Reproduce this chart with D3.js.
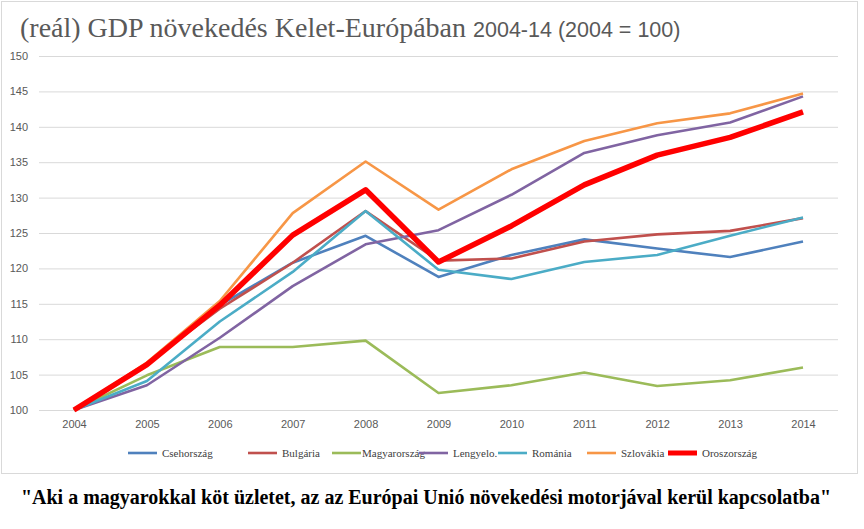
<!DOCTYPE html>
<html><head><meta charset="utf-8">
<script src="https://cdn.jsdelivr.net/npm/d3@7"></script>
<style>body{margin:0;background:#fff}svg{display:block}</style>
</head><body>
<svg id="c" width="864" height="529"></svg>
<script>
const years = ["2004","2005","2006","2007","2008","2009","2010","2011","2012","2013","2014"];
const yTicks = [100,105,110,115,120,125,130,135,140,145,150];
const seriesNames = ["Csehország","Bulgária","Magyarország","Lengyelo.","Románia","Szlovákia","Oroszország"];
const cseh   = [100,106.3,114.8,120.8,124.6,118.8,121.9,124.1,122.8,121.6,123.8];
const bulg   = [100,106.6,114.3,120.8,128.1,121.1,121.4,123.8,124.8,125.3,127.1];
const magy   = [100,104.9,108.9,108.9,109.8,102.4,103.5,105.3,103.4,104.2,106.0];
const leng   = [100,103.5,110.2,117.5,123.4,125.4,130.4,136.3,138.8,140.6,144.3];
const roma   = [100,104.1,112.5,119.5,128.1,119.8,118.5,120.9,121.9,124.6,127.2];
const szlo   = [100,106.7,115.4,127.8,135.1,128.3,134.0,138.0,140.5,141.9,144.7];
const orosz  = [100,106.4,114.8,124.7,131.1,120.9,126.0,131.8,136.0,138.5,142.1];
const seriesValues = [cseh,bulg,magy,leng,roma,szlo,orosz];
const colors = ["#4F81BD","#C0504D","#9BBB59","#8064A2","#4BACC6","#F79646","#FF0000"];
const widths = [2.6,2.6,2.6,2.6,2.6,2.6,5.5];

const svg = d3.select("#c");
svg.append("rect").attr("x",1.5).attr("y",1.5).attr("width",856).attr("height",472)
  .attr("fill","#fff").attr("stroke","#d9d9d9").attr("stroke-width",1);

const x = d3.scalePoint().domain(years).range([74,803]);
const y = d3.scaleLinear().domain([100,150]).range([410,56]);

svg.append("g").selectAll("line").data(yTicks).join("line")
  .attr("x1",39).attr("x2",838).attr("y1",d=>y(d)+0.5).attr("y2",d=>y(d)+0.5)
  .attr("stroke","#d9d9d9").attr("stroke-width",1);

const ya = svg.append("g").attr("transform","translate(28,0)")
  .call(d3.axisLeft(y).tickValues(yTicks).tickSize(0).tickPadding(0));
ya.select(".domain").remove();
ya.selectAll("text").attr("font-family","Liberation Sans, Arial, sans-serif").attr("font-size",11).attr("fill","#595959");

const xa = svg.append("g").attr("transform","translate(0,418)")
  .call(d3.axisBottom(x).tickSize(0).tickPadding(2));
xa.select(".domain").remove();
xa.selectAll("text").attr("font-family","Liberation Sans, Arial, sans-serif").attr("font-size",11).attr("fill","#595959");

const line = d3.line().x((d,i)=>x(years[i])).y(d=>y(d)).curve(d3.curveLinear);
svg.append("g").selectAll("path").data(seriesValues).join("path")
  .attr("d",d=>line(d)).attr("fill","none")
  .attr("stroke",(d,i)=>colors[i]).attr("stroke-width",(d,i)=>widths[i])
  .attr("stroke-linejoin","round").attr("stroke-linecap","butt");

const legX = [128,248,332,419,498,587,668];
const lg = svg.append("g").attr("transform","translate(0,453)");
seriesNames.forEach((n,i)=>{
  lg.append("line").attr("x1",legX[i]).attr("x2",legX[i]+29).attr("y1",0).attr("y2",0)
    .attr("stroke",colors[i]).attr("stroke-width",widths[i]===5.5?5:2.6);
  lg.append("text").attr("x",legX[i]+(i===2?30:34)).attr("y",4)
    .attr("font-family","Liberation Serif, serif").attr("font-size",11).attr("fill","#404040").text(n);
});

const t = svg.append("text").attr("x",20).attr("y",37).attr("fill","#595959");
t.append("tspan").attr("font-family","Liberation Serif, serif").attr("font-size",28).text("(reál) GDP növekedés Kelet-Európában ");
t.append("tspan").attr("font-family","Liberation Sans, Arial, sans-serif").attr("font-size",21.5).text("2004-14 (2004 = 100)");

svg.append("text").attr("x",426).attr("y",504).attr("text-anchor","middle")
  .attr("font-family","Liberation Serif, serif").attr("font-weight","bold").attr("font-size",20).attr("fill","#000")
  .text("\"Aki a magyarokkal köt üzletet, az az Európai Unió növekedési motorjával kerül kapcsolatba\"");
</script>
</body></html>
